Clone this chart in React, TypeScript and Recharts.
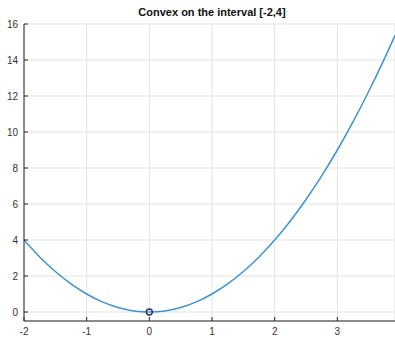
import { ComposedChart, Line, Scatter, XAxis, YAxis, CartesianGrid, ReferenceLine } from 'recharts'

// points
const xs = [-2, -1.75, -1.5, -1.25, -1, -0.75, -0.5, -0.25, 0, 0.25, 0.5, 0.75, 1, 1.25, 1.5, 1.75, 2, 2.25, 2.5, 2.75, 3, 3.25, 3.5, 3.75, 3.92]
const ys = [4, 3.06, 2.25, 1.56, 1, 0.56, 0.25, 0.06, 0, 0.06, 0.25, 0.56, 1, 1.56, 2.25, 3.06, 4, 5.06, 6.25, 7.56, 9, 10.56, 12.25, 14.06, 15.37]
const xTicks = [-2, -1, 0, 1, 2, 3]
const yTicks = [0, 2, 4, 6, 8, 10, 12, 14, 16]
const marker = [{ x: 0, y: 0 }]

const data = xs.map((x, i) => ({ x, y: ys[i] }))

const font = '"Liberation Sans", Arial, sans-serif'
const axisColor = '#262626'

const BottomTick = ({ x, y, payload }: any) => (
  <g>
    <line x1={x} y1={y} x2={x} y2={y - 4} stroke={axisColor} />
    <text x={x} y={y + 14} textAnchor="middle" fontSize={10} fill="#333" fontFamily={font}>
      {payload.value}
    </text>
  </g>
)

const TopTick = ({ x, y }: any) => <line x1={x} y1={y} x2={x} y2={y + 4} stroke={axisColor} />

const LeftTick = ({ x, y, payload }: any) => (
  <g>
    <line x1={x} y1={y} x2={x + 4} y2={y} stroke={axisColor} />
    <text x={x - 6} y={y + 4} textAnchor="end" fontSize={10} fill="#333" fontFamily={font}>
      {payload.value}
    </text>
  </g>
)

const Ring = ({ cx, cy }: any) => <circle cx={cx} cy={cy} r={3} fill="none" stroke="#1f2a6b" strokeWidth={1.3} />

export default function App() {
  return (
    <div style={{ position: 'fixed', top: 0, left: 0, width: 395, height: 339, background: '#fff' }}>
      <div
        style={{
          position: 'absolute',
          top: 6,
          left: 212,
          transform: 'translateX(-50%)',
          fontFamily: font,
          fontWeight: 'bold',
          fontSize: 11,
          whiteSpace: 'nowrap',
          color: '#111',
        }}
      >
        Convex on the interval [-2,4]
      </div>
      <ComposedChart width={395} height={339} data={data} margin={{ top: 24, right: 0, bottom: 0, left: 0 }}>
        <CartesianGrid stroke="#e3e3e3" strokeWidth={1} />
        <XAxis
          xAxisId="top"
          orientation="top"
          dataKey="x"
          type="number"
          domain={[-2, 3.92]}
          ticks={xTicks}
          height={0}
          tickSize={0}
          tickMargin={0}
          axisLine={{ stroke: axisColor }}
          tickLine={false}
          tick={<TopTick />}
        />
        <XAxis
          dataKey="x"
          type="number"
          domain={[-2, 3.92]}
          ticks={xTicks}
          height={18}
          tickSize={0}
          tickMargin={0}
          axisLine={{ stroke: axisColor }}
          tickLine={false}
          tick={<BottomTick />}
          allowDataOverflow
        />
        <YAxis
          dataKey="y"
          type="number"
          domain={[-0.5, 16]}
          ticks={yTicks}
          width={24}
          tickSize={0}
          tickMargin={0}
          axisLine={{ stroke: axisColor }}
          tickLine={false}
          tick={<LeftTick />}
          allowDataOverflow
        />
        <Line
          dataKey="y"
          type="monotone"
          stroke="#3d93d6"
          strokeWidth={1.5}
          dot={false}
          isAnimationActive={false}
        />
        <Scatter data={marker} dataKey="y" shape={<Ring />} isAnimationActive={false} />
      </ComposedChart>
    </div>
  )
}
